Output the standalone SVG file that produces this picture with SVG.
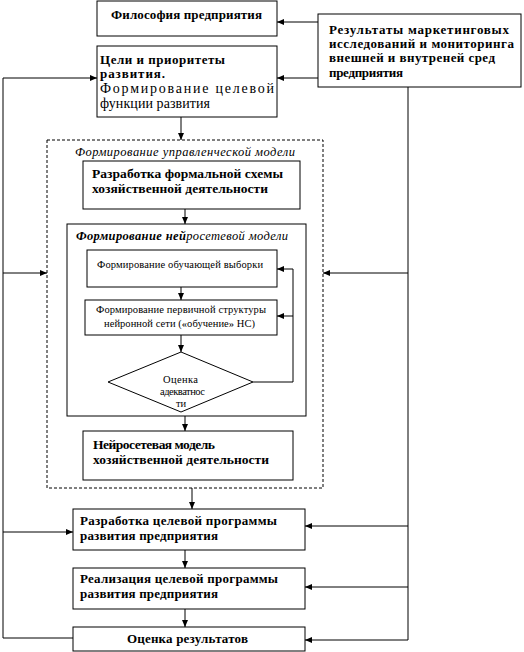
<svg xmlns="http://www.w3.org/2000/svg" width="524" height="652" viewBox="0 0 524 652">
<style>
.b{fill:#fff;stroke:#000;stroke-width:1}
.f{fill:none;stroke:#000;stroke-width:1}
.c{fill:none;stroke:#000;stroke-width:1}
text{font-family:"Liberation Serif","Times New Roman","DejaVu Serif",serif;fill:#000}
.bd{font-weight:bold;font-size:13px}
.bl{font-weight:bold;font-size:13.5px}
.rg{font-size:14px}
.sm{font-size:10.5px}
.it{font-style:italic;font-size:12.5px}
</style>
<defs>
<marker id="a" viewBox="0 0 7 6" refX="7" refY="3" markerWidth="7" markerHeight="6" markerUnits="userSpaceOnUse" orient="auto">
<path d="M0,0 L7,3 L0,6 z" fill="#000"/>
</marker>
</defs>
<rect width="524" height="652" fill="#fff"/>
<g id="connectors">
<path class="c" d="M318,22 H277" marker-end="url(#a)"/>
<path class="c" d="M318,78 H277" marker-end="url(#a)"/>
<path class="c" d="M408,87 V640"/>
<path class="c" d="M408,273 H323" marker-end="url(#a)"/>
<path class="c" d="M408,526 H305" marker-end="url(#a)"/>
<path class="c" d="M408,587 H305" marker-end="url(#a)"/>
<path class="c" d="M408,640 H305" marker-end="url(#a)"/>
<path class="c" d="M73,638 H3 V78 H97" marker-end="url(#a)"/>
<path class="c" d="M3,273 H47" marker-end="url(#a)"/>
<path class="c" d="M3,532 H73" marker-end="url(#a)"/>
<path class="c" d="M181,117 V140" marker-end="url(#a)"/>
<path class="c" d="M185,209 V224" marker-end="url(#a)"/>
<path class="c" d="M181,287 V300" marker-end="url(#a)"/>
<path class="c" d="M181,335 V352" marker-end="url(#a)"/>
<path class="c" d="M253,382 H293 V269 H277" marker-end="url(#a)"/>
<path class="c" d="M293,316 H277" marker-end="url(#a)"/>
<path class="c" d="M185,416 V431" marker-end="url(#a)"/>
<path class="c" d="M192,488 V509" marker-end="url(#a)"/>
<path class="c" d="M185,550 V568" marker-end="url(#a)"/>
<path class="c" d="M185,609 V627" marker-end="url(#a)"/>
</g>
<g id="n-philosophy">
<rect class="b" x="97" y="1" width="180" height="35"/>
<text class="bd" x="111" y="19" textLength="151" lengthAdjust="spacing">Философия предприятия</text>
</g>
<g id="n-goals">
<rect class="b" x="97" y="46" width="180" height="71"/>
<text class="bd" x="100" y="64" textLength="125" lengthAdjust="spacing">Цели и приоритеты</text>
<text class="bd" x="100" y="78" textLength="65" lengthAdjust="spacing">развития.</text>
<text class="rg" x="100" y="93" textLength="174" lengthAdjust="spacing">Формирование целевой</text>
<text class="rg" x="100" y="108" textLength="110" lengthAdjust="spacing">функции развития</text>
</g>
<g id="n-results">
<rect class="b" x="318" y="14" width="203" height="73"/>
<text class="bd" x="329" y="34" textLength="180" lengthAdjust="spacing">Результаты маркетинговых</text>
<text class="bd" x="329" y="48" textLength="185" lengthAdjust="spacing">исследований и мониторинга</text>
<text class="bd" x="329" y="62" textLength="166" lengthAdjust="spacing">внешней и внутреней сред</text>
<text class="bd" x="329" y="77" textLength="74" lengthAdjust="spacing">предприятия</text>
</g>
<g id="n-control-model">
<rect class="f" x="47" y="140" width="276" height="348" stroke-dasharray="3,2"/>
<text class="it" x="75" y="156" textLength="220" lengthAdjust="spacing">Формирование управленческой модели</text>
</g>
<g id="n-formal">
<rect class="b" x="83" y="161" width="217" height="48"/>
<text class="bl" x="92" y="178" textLength="191" lengthAdjust="spacing">Разработка формальной схемы</text>
<text class="bl" x="92" y="193" textLength="176" lengthAdjust="spacing">хозяйственной деятельности</text>
</g>
<g id="n-neural">
<rect class="f" x="67" y="224" width="239" height="192"/>
<text class="it" x="76" y="240" textLength="212" lengthAdjust="spacing"><tspan font-weight="bold">Формирование ней</tspan>росетевой модели</text>
</g>
<g id="n-sample">
<rect class="b" x="87" y="250" width="190" height="37"/>
<text class="sm" x="97" y="268" textLength="166" lengthAdjust="spacing">Формирование обучающей выборки</text>
</g>
<g id="n-structure">
<rect class="b" x="85" y="300" width="192" height="35"/>
<text class="sm" x="96" y="313" textLength="170" lengthAdjust="spacing">Формирование первичной структуры</text>
<text class="sm" x="104" y="327" textLength="151" lengthAdjust="spacing">нейронной сети («обучение» НС)</text>
</g>
<g id="n-adequacy">
<path class="b" d="M181,352 L253,382 L181,412 L108,382 Z"/>
<text class="sm" x="163" y="383" textLength="35" lengthAdjust="spacing">Оценка</text>
<text class="sm" x="160" y="395" textLength="45" lengthAdjust="spacing">адекватнос</text>
<text class="sm" x="181" y="407" text-anchor="middle">ти</text>
</g>
<g id="n-nn-model">
<rect class="b" x="83" y="431" width="210" height="49"/>
<text class="bl" x="93" y="449" textLength="122" lengthAdjust="spacing">Нейросетевая модель</text>
<text class="bl" x="93" y="464" textLength="176" lengthAdjust="spacing">хозяйственной деятельности</text>
</g>
<g id="n-develop">
<rect class="b" x="73" y="509" width="232" height="41"/>
<text class="bd" x="80" y="525" textLength="197" lengthAdjust="spacing">Разработка целевой программы</text>
<text class="bd" x="80" y="540" textLength="138" lengthAdjust="spacing">развития предприятия</text>
</g>
<g id="n-implement">
<rect class="b" x="73" y="568" width="232" height="41"/>
<text class="bd" x="80" y="583" textLength="198" lengthAdjust="spacing">Реализация целевой программы</text>
<text class="bd" x="80" y="598" textLength="138" lengthAdjust="spacing">развития предприятия</text>
</g>
<g id="n-evaluate">
<rect class="b" x="73" y="627" width="232" height="24"/>
<text class="bd" x="127" y="643" textLength="121" lengthAdjust="spacing">Оценка результатов</text>
</g>
</svg>
